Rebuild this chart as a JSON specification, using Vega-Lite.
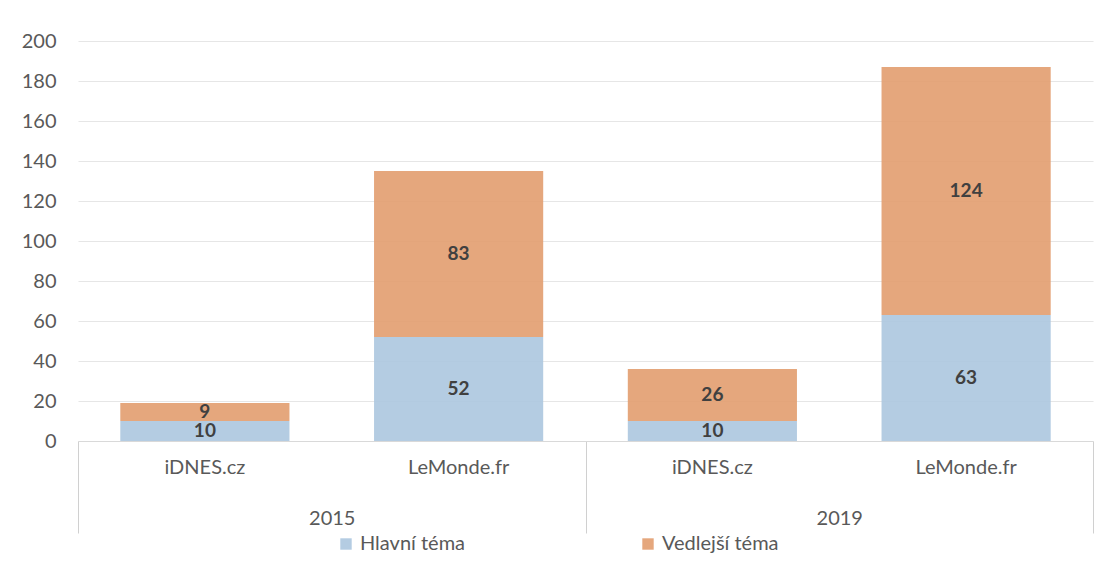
{
  "$schema": "https://vega.github.io/schema/vega-lite/v6.json",
  "width": 1015,
  "height": 400,
  "autosize": "none",
  "padding": {"left": 78, "top": 41, "right": 22, "bottom": 131},
  "background": "white",
  "config": {
    "font": "Lato",
    "view": {"stroke": null},
    "axis": {"labelFont": "Lato", "labelColor": "#595959", "labelFontSize": 20},
    "axisY": {
      "values": [0, 20, 40, 60, 80, 100, 120, 140, 160, 180, 200],
      "labelOverlap": false,
      "domain": false,
      "ticks": false,
      "labelPadding": 22,
      "gridColor": "#e6e6e6",
      "gridWidth": 1.2,
      "title": null
    }
  },
  "data": {
    "values": [
      {"year": "2015", "site": "iDNES.cz", "topic": "Hlavní téma", "value": 10},
      {"year": "2015", "site": "iDNES.cz", "topic": "Vedlejší téma", "value": 9},
      {"year": "2015", "site": "LeMonde.fr", "topic": "Hlavní téma", "value": 52},
      {"year": "2015", "site": "LeMonde.fr", "topic": "Vedlejší téma", "value": 83},
      {"year": "2019", "site": "iDNES.cz", "topic": "Hlavní téma", "value": 10},
      {"year": "2019", "site": "iDNES.cz", "topic": "Vedlejší téma", "value": 26},
      {"year": "2019", "site": "LeMonde.fr", "topic": "Hlavní téma", "value": 63},
      {"year": "2019", "site": "LeMonde.fr", "topic": "Vedlejší téma", "value": 124}
    ]
  },
  "encoding": {
    "x": {
      "field": "year",
      "type": "nominal",
      "scale": {"paddingInner": 0, "paddingOuter": 0},
      "axis": {
        "title": null,
        "labelAngle": 0,
        "tickBand": "extent",
        "tickSize": 92,
        "tickColor": "#d0d0d0",
        "domainColor": "#d9d9d9",
        "labelPadding": -15,
        "labelBaseline": "middle",
        "grid": false
      }
    },
    "xOffset": {
      "field": "site",
      "type": "nominal",
      "sort": ["iDNES.cz", "LeMonde.fr"],
      "scale": {"paddingInner": 0.3333, "paddingOuter": 0.1667}
    }
  },
  "layer": [
    {
      "mark": {"type": "bar", "opacity": 0.92},
      "encoding": {
        "y": {
          "field": "value",
          "type": "quantitative",
          "stack": "zero",
          "scale": {"domain": [0, 200], "nice": false},
          "axis": {
            "title": null,
            "values": [0, 20, 40, 60, 80, 100, 120, 140, 160, 180, 200],
            "labelOverlap": false
          }
        },
        "order": {"field": "topic", "sort": "ascending"},
        "color": {
          "field": "topic",
          "type": "nominal",
          "scale": {"domain": ["Hlavní téma", "Vedlejší téma"], "range": ["#aec8df", "#e39f72"]},
          "legend": {
            "title": null,
            "orient": "none",
            "legendX": 258,
            "legendY": 493,
            "direction": "horizontal",
            "symbolType": "square",
            "symbolSize": 130,
            "symbolStrokeWidth": 0,
            "labelFontSize": 20,
            "labelOffset": 4,
            "labelColor": "#595959",
            "labelFont": "Lato",
            "columnPadding": 172
          }
        }
      }
    },
    {
      "transform": [
        {"stack": "value", "groupby": ["year", "site"], "sort": [{"field": "topic", "order": "ascending"}], "as": ["v0", "v1"]},
        {"calculate": "(datum.v0 + datum.v1) / 2", "as": "mid"}
      ],
      "mark": {"type": "text", "fontWeight": "bold", "fontSize": 19, "color": "#404040", "baseline": "middle"},
      "encoding": {
        "y": {
          "field": "mid",
          "type": "quantitative",
          "axis": {
            "title": null,
            "values": [0, 20, 40, 60, 80, 100, 120, 140, 160, 180, 200],
            "labelOverlap": false
          }
        },
        "text": {"field": "value", "type": "quantitative"}
      }
    },
    {
      "transform": [{"filter": "datum.topic === 'Hlavní téma'"}],
      "mark": {"type": "text", "fontSize": 20, "color": "#595959", "baseline": "middle"},
      "encoding": {
        "y": {
          "datum": -13.5,
          "type": "quantitative",
          "axis": {
            "title": null,
            "values": [0, 20, 40, 60, 80, 100, 120, 140, 160, 180, 200],
            "labelOverlap": false
          }
        },
        "text": {"field": "site", "type": "nominal"}
      }
    }
  ]
}
